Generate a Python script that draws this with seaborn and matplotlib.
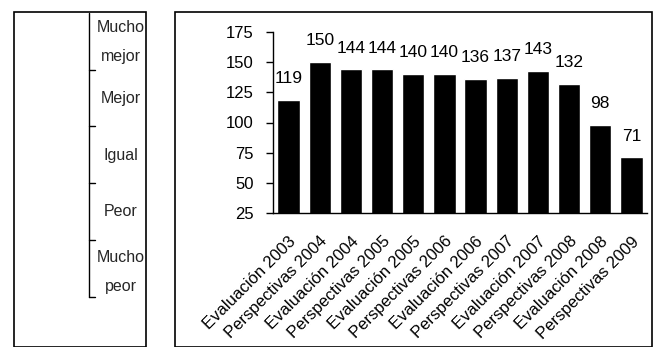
import matplotlib
matplotlib.use("Agg")
import matplotlib.pyplot as plt
import seaborn as sns
import pandas as pd
from matplotlib.patches import Rectangle
from matplotlib.lines import Line2D

categories = ["Evaluación 2003", "Perspectivas 2004", "Evaluación 2004", "Perspectivas 2005",
              "Evaluación 2005", "Perspectivas 2006", "Evaluación 2006", "Perspectivas 2007",
              "Evaluación 2007", "Perspectivas 2008", "Evaluación 2008", "Perspectivas 2009"]
values = [119, 150, 144, 144, 140, 140, 136, 137, 143, 132, 98, 71]
y_ticks = [25, 50, 75, 100, 125, 150, 175]
scale_lines = ["Mucho", "mejor", "Mejor", "Igual", "Peor", "Mucho", "peor"]

sns.set_theme(style="white")
plt.rcParams['font.family'] = ['Liberation Sans Narrow', 'Liberation Sans', 'DejaVu Sans']

W, H = 653, 347
fig = plt.figure(figsize=(W / 100, H / 100), dpi=100)

def fx(x): return x / W
def fy(y): return 1 - y / H

# panel frames
fig.add_artist(Rectangle((fx(14), fy(347)), fx(146) - fx(14), fy(12) - fy(347),
                         transform=fig.transFigure, fill=False, ec="black", lw=1.2))
fig.add_artist(Rectangle((fx(175), fy(347)), fx(652) - fx(175), fy(12) - fy(347),
                         transform=fig.transFigure, fill=False, ec="black", lw=1.2))

# left scale bracket
fig.add_artist(Line2D([fx(89), fx(89)], [fy(13), fy(297)], transform=fig.transFigure, color="black", lw=1))
for yy in [70, 126, 183, 240, 297]:
    fig.add_artist(Line2D([fx(89), fx(95)], [fy(yy), fy(yy)], transform=fig.transFigure, color="black", lw=1))
line_y = [27, 57, 98, 155, 212, 257, 287]
for lab, yy in zip(scale_lines, line_y):
    fig.text(fx(121), fy(yy), lab, ha="center", va="center", fontsize=11.5)

# bar chart
ax = fig.add_axes([fx(273), fy(213), fx(647) - fx(273), fy(32) - fy(213)])
df = pd.DataFrame({"cat": categories, "val": values})
sns.barplot(data=df, x="cat", y="val", color="black", width=0.72, saturation=1, ax=ax)
ax.set_ylim(25, 175)
ax.set_xlim(-0.5, len(categories) - 0.5)
ax.set_yticks(y_ticks)
ax.set_xlabel("")
ax.set_ylabel("")
for s in ["top", "right"]:
    ax.spines[s].set_visible(False)
for s in ["left", "bottom"]:
    ax.spines[s].set_color("black")
    ax.spines[s].set_linewidth(1)
ax.tick_params(axis="y", left=True, length=5, width=1, color="black", labelsize=12, pad=9)
ax.tick_params(axis="x", bottom=False, labelsize=12, pad=9)
ax.set_xticks(range(len(categories)))
ax.set_xticklabels(categories, rotation=45, ha="right", rotation_mode="anchor")
for t in ax.get_yticklabels() + ax.get_xticklabels():
    t.set_color("black")
ax.bar_label(ax.containers[0], labels=[str(v) for v in values], padding=10, fontsize=12.5, color="black")
ax.set_facecolor("none")

fig.savefig("out.png", dpi=100)
